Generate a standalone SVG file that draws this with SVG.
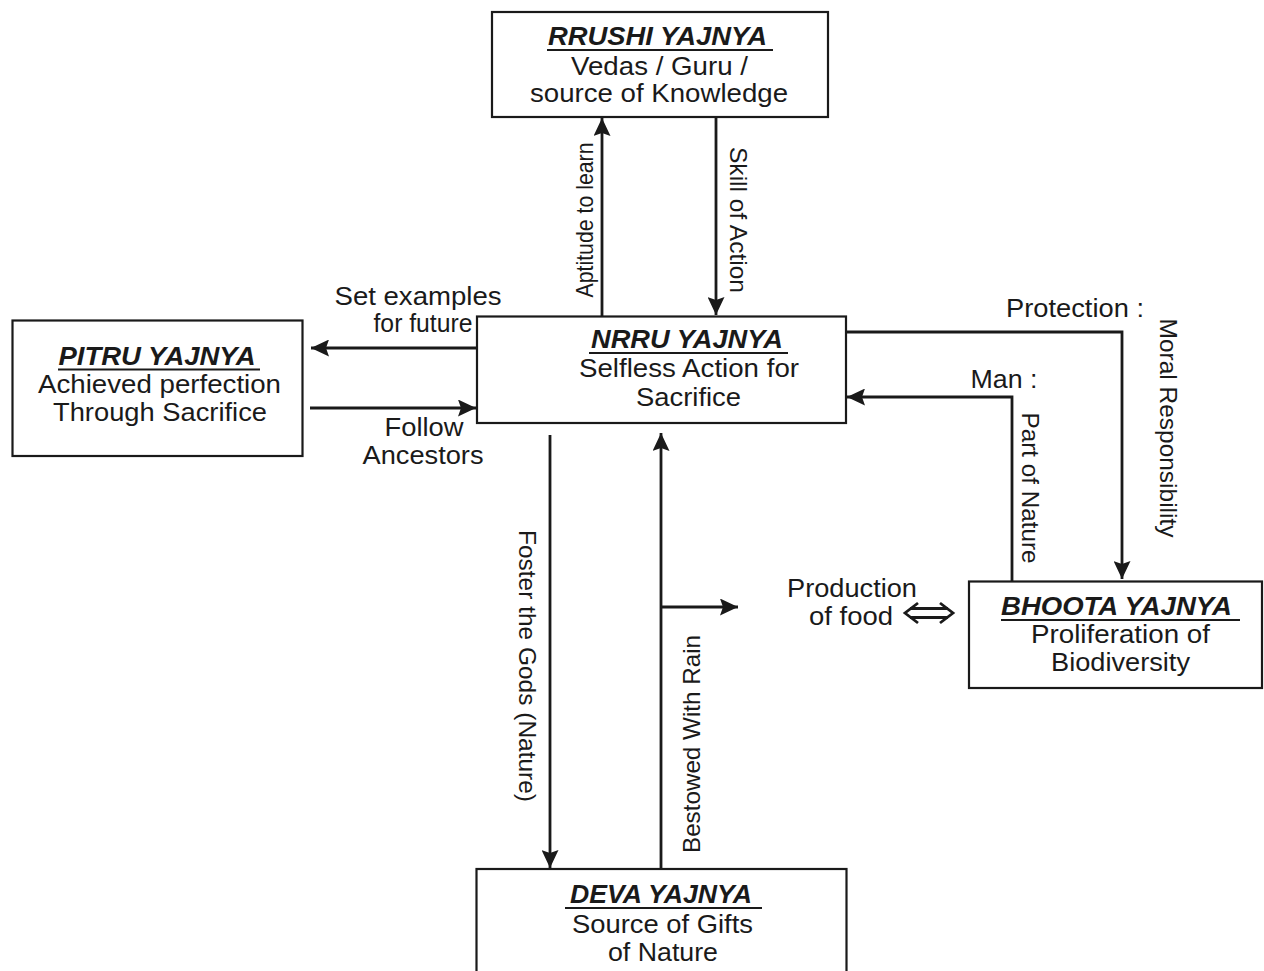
<svg xmlns="http://www.w3.org/2000/svg" width="1264" height="971" viewBox="0 0 1264 971">
<style>
.box{fill:#fff;stroke:#1a1a1a;stroke-width:2.2}
.t{font-family:"Liberation Sans",Arial,sans-serif;font-size:26px;fill:#1a1a1a;text-anchor:middle}
.h{font-weight:bold;font-style:italic}
.r{font-family:"Liberation Sans",Arial,sans-serif;font-size:24.5px;fill:#1a1a1a;text-anchor:middle}
.ul{stroke:#1a1a1a;stroke-width:2.2}
.c{fill:none;stroke:#1a1a1a;stroke-width:2.8}
.ca{fill:none;stroke:#1a1a1a;stroke-width:2.8;marker-end:url(#ah)}
</style>
<defs>
<marker id="ah" markerUnits="userSpaceOnUse" markerWidth="18" markerHeight="17" refX="18" refY="8.5" orient="auto" viewBox="0 0 18 17">
<path d="M0,0 L18,8.5 L0,17 L3,8.5 Z" fill="#1a1a1a"/>
</marker>
</defs>
<rect width="1264" height="971" fill="#fff"/>

<g id="connectors">
<line class="ca" x1="602" y1="316" x2="602" y2="118"/>
<line class="ca" x1="716" y1="117" x2="716" y2="315"/>
<line class="ca" x1="477" y1="348" x2="311" y2="348"/>
<line class="ca" x1="310" y1="408" x2="476" y2="408"/>
<polyline class="ca" points="846,332 1122,332 1122,579"/>
<polyline class="ca" points="1012,581 1012,397 847,397"/>
<line class="ca" x1="550" y1="435" x2="550" y2="868"/>
<line class="ca" x1="661" y1="869" x2="661" y2="433"/>
<line class="ca" x1="661" y1="607" x2="738" y2="607"/>
<path class="c" d="M918,603 L905,613 L918,623 M940,603 L953,613 L940,623 M910,608.5 L948,608.5 M910,617.5 L948,617.5" stroke-width="2.4"/>
<text class="r" transform="translate(593,220) rotate(-90)" textLength="155" lengthAdjust="spacingAndGlyphs">Aptitude to learn</text>
<text class="r" transform="translate(730,220) rotate(90)" textLength="146" lengthAdjust="spacingAndGlyphs">Skill of Action</text>
<text class="t" x="418" y="305" textLength="167" lengthAdjust="spacingAndGlyphs">Set examples</text>
<text class="t" x="423" y="332" textLength="99" lengthAdjust="spacingAndGlyphs">for future</text>
<text class="t" x="424" y="436" textLength="79" lengthAdjust="spacingAndGlyphs">Follow</text>
<text class="t" x="423" y="464" textLength="121" lengthAdjust="spacingAndGlyphs">Ancestors</text>
<text class="t" x="1075" y="317" textLength="138" lengthAdjust="spacingAndGlyphs">Protection :</text>
<text class="r" transform="translate(1160,428) rotate(90)" textLength="219" lengthAdjust="spacingAndGlyphs">Moral Responsibility</text>
<text class="t" x="1004" y="388" textLength="67" lengthAdjust="spacingAndGlyphs">Man :</text>
<text class="r" transform="translate(1022,488) rotate(90)" textLength="151" lengthAdjust="spacingAndGlyphs">Part of Nature</text>
<text class="r" transform="translate(519,666) rotate(90)" textLength="272" lengthAdjust="spacingAndGlyphs">Foster the Gods (Nature)</text>
<text class="r" transform="translate(700,744) rotate(-90)" textLength="218" lengthAdjust="spacingAndGlyphs">Bestowed With Rain</text>
<text class="t" x="852" y="597" textLength="130" lengthAdjust="spacingAndGlyphs">Production</text>
<text class="t" x="851" y="625" textLength="84" lengthAdjust="spacingAndGlyphs">of food</text>
</g>

<g id="rrushi">
<rect class="box" x="492" y="12" width="336" height="105"/>
<text class="t h" x="657.5" y="45" textLength="219" lengthAdjust="spacingAndGlyphs">RRUSHI YAJNYA</text>
<line class="ul" x1="547" y1="50" x2="773" y2="50"/>
<text class="t" x="659.5" y="75" textLength="177" lengthAdjust="spacingAndGlyphs">Vedas / Guru /</text>
<text class="t" x="659" y="102" textLength="258" lengthAdjust="spacingAndGlyphs">source of Knowledge</text>
</g>

<g id="pitru">
<rect class="box" x="12.5" y="320.5" width="290" height="135.5"/>
<text class="t h" x="157" y="365" textLength="197" lengthAdjust="spacingAndGlyphs">PITRU YAJNYA</text>
<line class="ul" x1="58" y1="369.5" x2="260" y2="369.5"/>
<text class="t" x="159.5" y="393" textLength="243" lengthAdjust="spacingAndGlyphs">Achieved perfection</text>
<text class="t" x="160" y="421" textLength="214" lengthAdjust="spacingAndGlyphs">Through Sacrifice</text>
</g>

<g id="nrru">
<rect class="box" x="477" y="316.5" width="369" height="106.5"/>
<text class="t h" x="687" y="348" textLength="192" lengthAdjust="spacingAndGlyphs">NRRU YAJNYA</text>
<line class="ul" x1="589" y1="353" x2="788" y2="353"/>
<text class="t" x="689" y="377" textLength="220" lengthAdjust="spacingAndGlyphs">Selfless Action for</text>
<text class="t" x="688.5" y="406" textLength="105" lengthAdjust="spacingAndGlyphs">Sacrifice</text>
</g>

<g id="bhoota">
<rect class="box" x="969" y="581.5" width="293" height="106.5"/>
<text class="t h" x="1116.5" y="615" textLength="231" lengthAdjust="spacingAndGlyphs">BHOOTA YAJNYA</text>
<line class="ul" x1="1001" y1="620" x2="1240" y2="620"/>
<text class="t" x="1120.5" y="643" textLength="179" lengthAdjust="spacingAndGlyphs">Proliferation of</text>
<text class="t" x="1120.5" y="671" textLength="139" lengthAdjust="spacingAndGlyphs">Biodiversity</text>
</g>

<g id="deva">
<rect class="box" x="476.5" y="869" width="370" height="110"/>
<text class="t h" x="661" y="903" textLength="182" lengthAdjust="spacingAndGlyphs">DEVA YAJNYA</text>
<line class="ul" x1="565" y1="908" x2="762" y2="908"/>
<text class="t" x="662.5" y="933" textLength="181" lengthAdjust="spacingAndGlyphs">Source of Gifts</text>
<text class="t" x="663" y="961" textLength="110" lengthAdjust="spacingAndGlyphs">of Nature</text>
</g>
</svg>
